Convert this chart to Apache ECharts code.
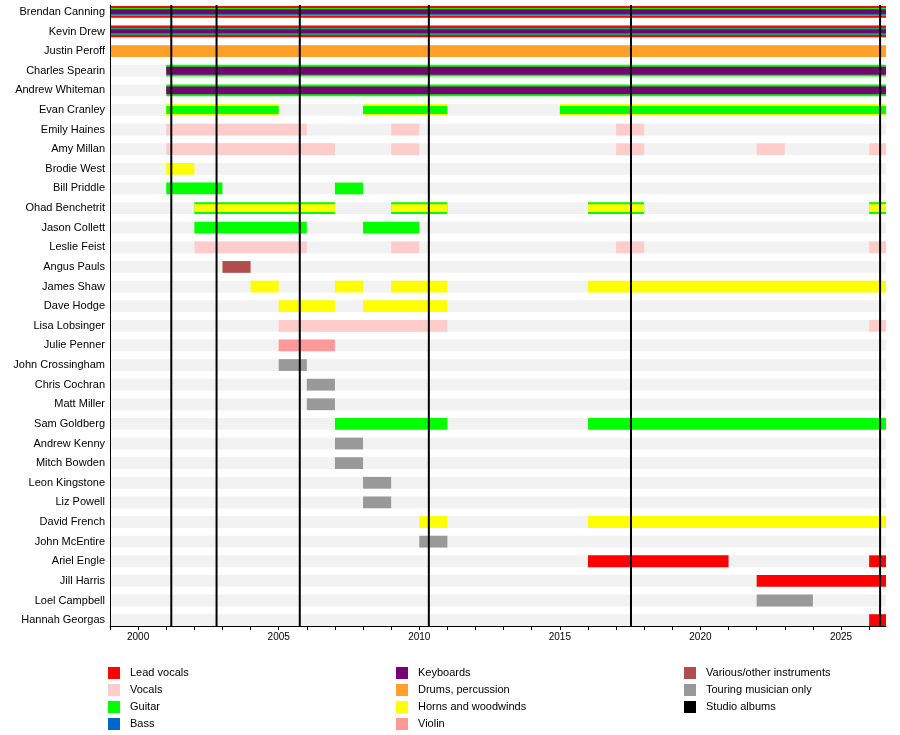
<!DOCTYPE html>
<html>
<head>
<meta charset="utf-8">
<script src="https://cdn.jsdelivr.net/npm/echarts@6/dist/echarts.min.js"></script>
<style>
    html, body { margin: 0; padding: 0; background: #fff; }
    #chart { width: 900px; height: 735px; }
</style>
</head>
<body>
<div id="chart"></div>
<script>
// 时间轴的结束位置（图上最右边）
const END = 2026.6;

const members = [
    'Brendan Canning', 'Kevin Drew', 'Justin Peroff', 'Charles Spearin', 'Andrew Whiteman',
    'Evan Cranley', 'Emily Haines', 'Amy Millan', 'Brodie West', 'Bill Priddle',
    'Ohad Benchetrit', 'Jason Collett', 'Leslie Feist', 'Angus Pauls', 'James Shaw',
    'Dave Hodge', 'Lisa Lobsinger', 'Julie Penner', 'John Crossingham', 'Chris Cochran',
    'Matt Miller', 'Sam Goldberg', 'Andrew Kenny', 'Mitch Bowden', 'Leon Kingstone',
    'Liz Powell', 'David French', 'John McEntire', 'Ariel Engle', 'Jill Harris',
    'Loel Campbell', 'Hannah Georgas'
];

const roles = [
    'Lead vocals', 'Vocals', 'Guitar', 'Bass',
    'Keyboards', 'Drums, percussion', 'Horns and woodwinds', 'Violin',
    'Various/other instruments', 'Touring musician only'
];
const roleColors = [
    '#ff0000', '#ffcccc', '#00ff00', '#0066cc',
    '#770077', '#ffa02a', '#ffff00', '#ff9999',
    '#b34d4d', '#999999'
];

// [成员, 开始, 结束, 角色(外层在前)]
const stints = [
    ['Brendan Canning', 1999, END, ['Lead vocals', 'Guitar', 'Bass', 'Keyboards']],
    ['Kevin Drew', 1999, END, ['Lead vocals', 'Bass', 'Guitar', 'Keyboards']],
    ['Justin Peroff', 1999, END, ['Drums, percussion']],
    ['Charles Spearin', 2001, END, ['Guitar', 'Keyboards']],
    ['Andrew Whiteman', 2001, END, ['Guitar', 'Keyboards']],
    ['Evan Cranley', 2001, 2005, ['Horns and woodwinds', 'Guitar']],
    ['Evan Cranley', 2008, 2011, ['Horns and woodwinds', 'Guitar']],
    ['Evan Cranley', 2015, END, ['Horns and woodwinds', 'Guitar']],
    ['Emily Haines', 2001, 2006, ['Vocals']],
    ['Emily Haines', 2009, 2010, ['Vocals']],
    ['Emily Haines', 2017, 2018, ['Vocals']],
    ['Amy Millan', 2001, 2007, ['Vocals']],
    ['Amy Millan', 2009, 2010, ['Vocals']],
    ['Amy Millan', 2017, 2018, ['Vocals']],
    ['Amy Millan', 2022, 2023, ['Vocals']],
    ['Amy Millan', 2026, END, ['Vocals']],
    ['Brodie West', 2001, 2002, ['Horns and woodwinds']],
    ['Bill Priddle', 2001, 2003, ['Guitar']],
    ['Bill Priddle', 2007, 2008, ['Guitar']],
    ['Ohad Benchetrit', 2002, 2007, ['Guitar', 'Horns and woodwinds']],
    ['Ohad Benchetrit', 2009, 2011, ['Guitar', 'Horns and woodwinds']],
    ['Ohad Benchetrit', 2016, 2018, ['Guitar', 'Horns and woodwinds']],
    ['Ohad Benchetrit', 2026, END, ['Guitar', 'Horns and woodwinds']],
    ['Jason Collett', 2002, 2006, ['Guitar']],
    ['Jason Collett', 2008, 2010, ['Guitar']],
    ['Leslie Feist', 2002, 2006, ['Vocals']],
    ['Leslie Feist', 2009, 2010, ['Vocals']],
    ['Leslie Feist', 2017, 2018, ['Vocals']],
    ['Leslie Feist', 2026, END, ['Vocals']],
    ['Angus Pauls', 2003, 2004, ['Various/other instruments']],
    ['James Shaw', 2004, 2005, ['Horns and woodwinds']],
    ['James Shaw', 2007, 2008, ['Horns and woodwinds']],
    ['James Shaw', 2009, 2011, ['Horns and woodwinds']],
    ['James Shaw', 2016, END, ['Horns and woodwinds']],
    ['Dave Hodge', 2005, 2007, ['Horns and woodwinds']],
    ['Dave Hodge', 2008, 2011, ['Horns and woodwinds']],
    ['Lisa Lobsinger', 2005, 2011, ['Vocals']],
    ['Lisa Lobsinger', 2026, END, ['Vocals']],
    ['Julie Penner', 2005, 2007, ['Violin']],
    ['John Crossingham', 2005, 2006, ['Touring musician only']],
    ['Chris Cochran', 2006, 2007, ['Touring musician only']],
    ['Matt Miller', 2006, 2007, ['Touring musician only']],
    ['Sam Goldberg', 2007, 2011, ['Guitar']],
    ['Sam Goldberg', 2016, END, ['Guitar']],
    ['Andrew Kenny', 2007, 2008, ['Touring musician only']],
    ['Mitch Bowden', 2007, 2008, ['Touring musician only']],
    ['Leon Kingstone', 2008, 2009, ['Touring musician only']],
    ['Liz Powell', 2008, 2009, ['Touring musician only']],
    ['David French', 2010, 2011, ['Horns and woodwinds']],
    ['David French', 2016, END, ['Horns and woodwinds']],
    ['John McEntire', 2010, 2011, ['Touring musician only']],
    ['Ariel Engle', 2016, 2021, ['Lead vocals']],
    ['Ariel Engle', 2026, END, ['Lead vocals']],
    ['Jill Harris', 2022, END, ['Lead vocals']],
    ['Loel Campbell', 2022, 2024, ['Touring musician only']],
    ['Hannah Georgas', 2026, END, ['Lead vocals']]
];

// 录音室专辑发行时间
const albums = [2001.18, 2002.79, 2005.75, 2010.34, 2017.53, 2026.39];

const FONT = '"Liberation Sans", Arial, sans-serif';
const layerScale = [1, 0.67, 0.5, 0.36];

function barItem(params, api) {
    const row = api.value(2);
    const start = api.coord([api.value(0), row]);
    const end = api.coord([api.value(1), row]);
    const layer = api.value(3);
    const h = api.size([0, 1])[1] * 0.6 * layerScale[layer];
    return {
        type: 'rect',
        z2: 10 + layer,
        shape: { x: start[0], y: start[1] - h / 2, width: end[0] - start[0], height: h },
        style: { fill: api.visual('color') }
    };
}

const roleSeries = roles.map(function (r, i) {
    return {
        type: 'custom',
        name: r,
        renderItem: barItem,
        itemStyle: { color: roleColors[i] },
        encode: { x: [0, 1], y: 2 },
        data: stints.filter(s => s[3].includes(r))
            .map(s => [s[1], s[2], members.indexOf(s[0]), s[3].indexOf(r)])
    };
});

const rowSeries = {
    type: 'custom',
    name: 'rows',
    silent: true,
    encode: { x: 0, y: 1 },
    data: members.map((m, i) => [1999, i]),
    renderItem: function (params, api) {
        const cs = params.coordSys;
        const y = api.coord([1999, api.value(1)])[1];
        const h = api.size([0, 1])[1] * 0.6;
        return {
            type: 'rect', z2: 0,
            shape: { x: cs.x, y: y - h / 2, width: cs.width, height: h },
            style: { fill: '#f2f2f2' }
        };
    }
};

const nameSeries = {
    type: 'custom',
    name: 'names',
    silent: true,
    encode: { x: 0, y: 1 },
    data: members.map((m, i) => [1999, i]),
    renderItem: function (params, api) {
        const cs = params.coordSys;
        const y = api.coord([1999, api.value(1)])[1];
        return {
            type: 'text',
            x: cs.x - 5,
            y: y,
            style: {
                text: members[params.dataIndex],
                align: 'right',
                verticalAlign: 'middle',
                fill: '#000',
                font: '11px ' + FONT
            }
        };
    }
};

const albumSeries = {
    type: 'custom',
    name: 'Studio albums',
    silent: true,
    itemStyle: { color: '#000' },
    encode: { x: 0, y: 1 },
    data: albums.map(a => [a, 0]),
    renderItem: function (params, api) {
        const cs = params.coordSys;
        const x = api.coord([api.value(0), 0])[0];
        return {
            type: 'line', z2: 100,
            shape: { x1: x, y1: cs.y, x2: x, y2: cs.y + cs.height },
            style: { stroke: '#000', lineWidth: 2 }
        };
    }
};

const legendBase = {
    orient: 'vertical',
    top: 667,
    padding: 0,
    icon: 'rect',
    itemWidth: 12,
    itemHeight: 12,
    itemGap: 5,
    selectedMode: false,
    textStyle: { fontSize: 11, color: '#000', fontFamily: FONT, padding: [0, 0, 0, 5] }
};

const chart = echarts.init(document.getElementById('chart'));
option = {
    animation: false,
    grid: { left: 110, right: 14, top: 5, bottom: 109 },
    xAxis: {
        type: 'value',
        position: 'bottom',
        z: 20,
        min: 1999,
        max: END,
        interval: 1,
        splitLine: { show: false },
        axisLine: { onZero: false, lineStyle: { color: '#000', width: 1 } },
        axisTick: { length: 4, lineStyle: { color: '#000' } },
        axisLabel: {
            color: '#000',
            fontSize: 10,
            fontFamily: FONT,
            margin: 6,
            showMaxLabel: false,
            formatter: v => (v % 5 === 0 ? String(v) : '')
        }
    },
    yAxis: {
        type: 'value',
        z: 20,
        inverse: true,
        min: -0.35,
        max: 31.3,
        splitLine: { show: false },
        axisTick: { show: false },
        axisLabel: { show: false },
        axisLine: { show: true, onZero: false, lineStyle: { color: '#000', width: 1 } }
    },
    legend: [
        Object.assign({}, legendBase, { left: 108, data: roles.slice(0, 4) }),
        Object.assign({}, legendBase, { left: 396, data: roles.slice(4, 8) }),
        Object.assign({}, legendBase, { left: 684, data: [roles[8], roles[9], 'Studio albums'] })
    ],
    series: [rowSeries, nameSeries].concat(roleSeries, [albumSeries])
};
chart.setOption(option);
</script>
</body>
</html>
